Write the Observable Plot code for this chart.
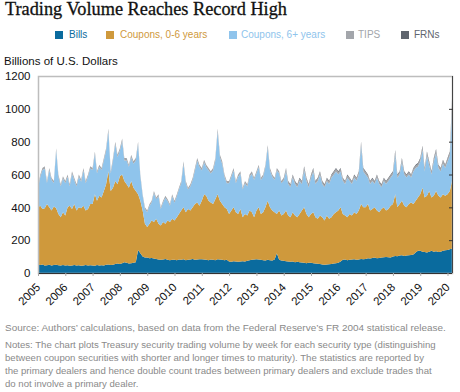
<!DOCTYPE html>
<html><head><meta charset="utf-8">
<script src="https://cdn.jsdelivr.net/npm/d3@7"></script>
<script src="https://cdn.jsdelivr.net/npm/@observablehq/plot@0.6"></script>
<style>
body{margin:0;width:460px;height:392px;position:relative;background:#fff;font-family:"Liberation Sans",Arial,sans-serif;overflow:hidden}
#title{position:absolute;left:5px;top:0;font-family:"Liberation Serif",Georgia,serif;font-size:18.3px;line-height:18px;color:#111;white-space:nowrap;-webkit-text-stroke:0.3px #111}
.lg{position:absolute;top:30px;font-size:10px;line-height:10px;white-space:nowrap}
.sw{position:absolute;top:31px;width:8px;height:8px}
#ylab{position:absolute;left:4px;top:54px;font-size:11.5px;line-height:14px;color:#111;white-space:nowrap}
#chart{position:absolute;left:0;top:68px}
.note{position:absolute;left:5px;font-size:9.6px;line-height:13px;color:#8a8a8a;white-space:nowrap}
</style></head>
<body>
<div id="title">Trading Volume Reaches Record High</div>
<div id="legend"></div>
<div id="ylab">Billions of U.S. Dollars</div>
<div id="chart"></div>
<div class="note" style="top:321px;font-size:9.95px">Source: Authors’ calculations, based on data from the Federal Reserve’s FR 2004 statistical release.</div>
<div class="note" style="top:338px">Notes: The chart plots Treasury security trading volume by week for each security type (distinguishing<br>between coupon securities with shorter and longer times to maturity). The statistics are reported by<br>the primary dealers and hence double count trades between primary dealers and exclude trades that<br>do not involve a primary dealer.</div>
<script>
const series = ["Bills", "Coupons, 0-6 years", "Coupons, 6+ years", "TIPS", "FRNs"];
const colors = ["#0a6b9e", "#cf993c", "#8fc4ec", "#a3a6ab", "#5f656e"];
const years = [2005,2006,2007,2008,2009,2010,2011,2012,2013,2014,2015,2016,2017,2018,2019,2020];
const yTicks = [0,200,400,600,800,1000,1200];

// monthly values, Jan 2005 - Mar 2020 (billions of U.S. dollars)
const bills = [
 50,48,52,45,47,50,46,48,50,47,45,48,
 45,47,44,46,48,45,47,44,46,48,45,47,
 46,44,48,45,47,46,50,52,48,50,55,58,
 55,60,65,62,58,60,62,65,140,120,100,95,
 95,90,92,88,85,82,80,82,85,80,78,80,
 80,78,82,80,84,78,80,82,85,80,82,84,
 84,82,80,78,82,80,78,84,82,80,78,80,
 70,68,72,70,68,70,72,70,74,78,80,82,
 84,82,80,78,76,80,78,76,82,120,80,76,
 75,72,70,68,70,66,68,65,64,62,60,62,
 62,60,58,56,55,52,50,52,54,55,58,60,
 62,70,80,82,78,80,82,84,80,82,86,84,
 86,90,88,92,94,90,92,94,96,98,96,94,
 100,104,102,106,108,104,106,108,110,112,125,135,
 135,130,128,125,130,135,130,132,128,130,135,138,
 140,145,150];
const coupons06 = [
 350,362,338,350,373,350,334,357,345,313,295,322,
 305,353,366,344,372,335,353,351,364,332,345,373,
 374,436,392,425,413,454,490,568,452,470,505,482,
 535,540,495,478,462,500,458,435,340,320,280,205,
 185,210,228,222,245,218,210,228,215,240,232,250,
 240,262,278,300,316,292,310,298,315,340,348,326,
 356,398,390,362,348,340,372,396,358,340,322,310,
 290,312,328,300,292,320,268,290,276,302,290,258,
 296,318,280,292,324,360,322,304,288,240,300,274,
 285,308,280,272,300,284,272,295,316,338,300,278,
 298,310,282,274,295,288,270,298,276,285,302,310,
 318,330,280,268,262,280,268,286,280,298,334,316,
 314,330,292,298,306,290,278,296,304,282,294,316,
 320,376,298,314,332,306,294,312,320,308,315,325,
 345,390,332,345,370,325,340,368,342,330,345,332,
 340,355,410];
const coupons6p = [
 118,176,237,240,128,226,187,143,349,226,188,207,
 196,187,118,215,146,147,188,161,215,167,198,216,
 207,245,168,176,167,186,205,242,106,165,224,165,
 154,202,125,146,127,145,146,185,304,148,90,90,
 90,109,110,178,119,168,100,119,158,119,100,138,
 108,127,148,166,264,177,118,147,166,205,254,235,
 185,194,175,186,176,205,234,380,263,244,186,157,
 187,206,225,177,226,215,168,187,177,206,235,226,
 226,245,207,216,245,322,225,206,197,266,226,197,
 203,241,192,182,211,192,182,200,161,227,200,181,
 220,249,202,230,249,202,202,210,212,240,239,249,
 220,219,202,192,240,201,192,210,202,220,355,219,
 199,160,162,170,142,200,172,132,160,162,170,170,
 180,244,180,180,237,190,182,180,152,199,199,187,
 197,229,159,246,157,140,207,229,169,159,187,169,
 197,214,418];
const tips = [
 12,14,13,15,12,14,13,12,16,14,12,13,
 14,13,12,15,14,13,12,14,15,13,12,14,
 13,15,12,14,13,14,15,18,14,15,16,15,
 16,18,15,14,13,15,14,15,16,12,10,10,
 10,11,10,12,11,12,10,11,12,11,10,12,
 12,13,12,14,16,13,12,13,14,15,16,15,
 15,16,15,14,14,15,16,20,17,16,14,13,
 13,14,15,13,14,15,12,13,13,14,15,14,
 14,15,13,14,15,18,15,14,13,14,14,13,
 14,15,14,13,14,13,13,14,13,16,14,13,
 14,15,13,14,15,13,13,14,13,14,15,15,
 14,15,13,13,14,14,13,14,13,14,18,15,
 15,14,13,14,13,14,13,13,14,13,14,14,
 14,18,14,14,16,14,13,14,13,15,15,16,
 16,18,15,17,16,14,16,18,15,15,16,15,
 16,18,70];
const frns = [
 0,0,0,0,0,0,0,0,0,0,0,0,
 0,0,0,0,0,0,0,0,0,0,0,0,
 0,0,0,0,0,0,0,0,0,0,0,0,
 0,0,0,0,0,0,0,0,0,0,0,0,
 0,0,0,0,0,0,0,0,0,0,0,0,
 0,0,0,0,0,0,0,0,0,0,0,0,
 0,0,0,0,0,0,0,0,0,0,0,0,
 0,0,0,0,0,0,0,0,0,0,0,0,
 0,0,0,0,0,0,0,0,0,0,0,0,
 3,4,4,5,5,5,5,6,6,7,6,6,
 6,6,5,6,6,5,5,6,5,6,6,6,
 6,6,5,5,6,5,5,6,5,6,7,6,
 6,6,5,6,5,6,5,5,6,5,6,6,
 6,8,6,6,7,6,5,6,5,6,6,7,
 7,8,6,7,7,6,7,8,6,6,7,6,
 7,8,12];

const dates = d3.utcMonth.range(new Date(Date.UTC(2005,0,1)), new Date(Date.UTC(2020,2,2)));
const seriesData = [bills, coupons06, coupons6p, tips, frns];
const table = [];
dates.forEach((d, i) => seriesData.forEach((arr, k) => table.push({date: d, series: series[k], value: arr[i]})));
const yearDates = years.map(y => new Date(Date.UTC(y, 0, 1)));

// legend
const legendPos = [[55,69],[106,120],[229,241],[346,358],[401,414]];
const lg = document.getElementById("legend");
series.forEach((s, i) => {
  const sw = document.createElement("div"); sw.className = "sw";
  sw.style.left = legendPos[i][0] + "px"; sw.style.background = colors[i]; lg.appendChild(sw);
  const t = document.createElement("div"); t.className = "lg";
  t.style.left = legendPos[i][1] + "px"; t.style.color = colors[i]; t.textContent = s; lg.appendChild(t);
});

const chart = Plot.plot({
  width: 460, height: 243,
  marginTop: 8, marginRight: 8, marginBottom: 38, marginLeft: 38,
  style: {fontFamily: "Liberation Sans, Arial, sans-serif", fontSize: "11.5px", color: "#111", background: "transparent", overflow: "visible"},
  x: {type: "utc", domain: [dates[0], dates[dates.length - 1]]},
  y: {domain: [0, 1200]},
  color: {domain: series, range: colors},
  marks: [
    Plot.areaY(table, {x: "date", y: "value", z: "series", fill: "series", order: series, curve: "linear"}),
    Plot.frame({stroke: "#bdbdbd", strokeWidth: 1.5}),
    Plot.ruleX([dates[dates.length - 1]], {stroke: "#444"}),
    Plot.ruleY([0], {stroke: "#333"}),
    Plot.axisY({anchor: "left", ticks: yTicks, tickSize: 0, tickPadding: 8, tickFormat: d3.format("d"), label: null}),
    Plot.axisY({anchor: "right", ticks: yTicks.slice(1, -1), tickSize: 4, dx: -4, tickFormat: () => "", label: null, stroke: "#333"}),
    Plot.axisX({ticks: yearDates, tickSize: 3, tickRotate: -45, tickFormat: "%Y", label: null, stroke: "#aaa", fill: "#111"})
  ]
});
document.getElementById("chart").appendChild(chart);
</script>
</body></html>
